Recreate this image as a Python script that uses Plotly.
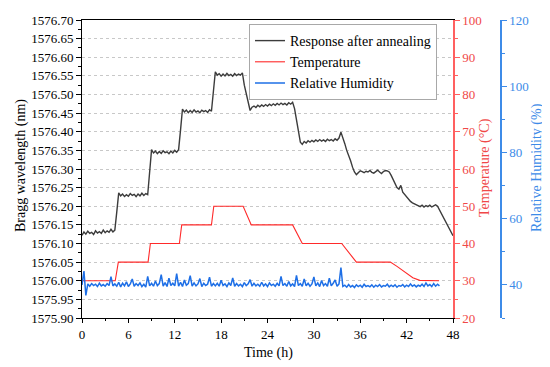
import numpy as np
import plotly.graph_objects as go

# ---------------- data ----------------
# Bragg wavelength (nm), sampled every 0.25 h from 0 to 48 h
bragg = [
    1576.122, 1576.131, 1576.125, 1576.133, 1576.127, 1576.130, 1576.124, 1576.134, 1576.128,
    1576.132, 1576.127, 1576.136, 1576.129, 1576.134, 1576.130, 1576.138, 1576.131, 1576.136,
    1576.185, 1576.236,
    1576.228, 1576.233, 1576.226, 1576.231, 1576.227, 1576.234, 1576.229, 1576.232, 1576.226,
    1576.233, 1576.228, 1576.235, 1576.229, 1576.234, 1576.231,
    1576.300, 1576.352,
    1576.343, 1576.348, 1576.341, 1576.347, 1576.342, 1576.349, 1576.344, 1576.346, 1576.341,
    1576.348, 1576.343, 1576.350, 1576.345, 1576.352,
    1576.405, 1576.461,
    1576.453, 1576.458, 1576.451, 1576.457, 1576.452, 1576.459, 1576.453, 1576.456, 1576.451,
    1576.458, 1576.454, 1576.457, 1576.452, 1576.459, 1576.455,
    1576.520, 1576.561,
    1576.552, 1576.556, 1576.549, 1576.555, 1576.550, 1576.557, 1576.551, 1576.554, 1576.549,
    1576.556, 1576.551, 1576.555, 1576.552, 1576.558,
    1576.525, 1576.500, 1576.478, 1576.457, 1576.466,
    1576.469, 1576.465, 1576.471, 1576.467, 1576.472, 1576.468, 1576.473, 1576.469, 1576.474,
    1576.470, 1576.475, 1576.471, 1576.476, 1576.472, 1576.477, 1576.473, 1576.476, 1576.472,
    1576.478, 1576.474, 1576.479,
    1576.462, 1576.435, 1576.405, 1576.372, 1576.366,
    1576.374, 1576.370, 1576.376, 1576.372, 1576.377, 1576.373, 1576.378, 1576.374, 1576.379,
    1576.375, 1576.378, 1576.374, 1576.380, 1576.376, 1576.379, 1576.375, 1576.381, 1576.377,
    1576.383, 1576.399,
    1576.380, 1576.368, 1576.350, 1576.338, 1576.322, 1576.305, 1576.292, 1576.285,
    1576.291, 1576.295, 1576.293, 1576.290, 1576.294, 1576.292, 1576.296, 1576.291, 1576.289,
    1576.293, 1576.297, 1576.292, 1576.288, 1576.293, 1576.296, 1576.295, 1576.292,
    1576.283, 1576.272, 1576.260, 1576.250, 1576.246, 1576.256, 1576.238, 1576.231, 1576.224,
    1576.218, 1576.213, 1576.209, 1576.206, 1576.204, 1576.201,
    1576.199, 1576.203, 1576.198, 1576.202, 1576.199, 1576.203, 1576.198, 1576.201, 1576.204,
    1576.200,
    1576.190, 1576.180, 1576.168, 1576.158, 1576.148, 1576.139, 1576.130, 1576.121,
]
bragg_time = [0.25 * i for i in range(len(bragg))]

# Temperature (°C) set-point profile
temp_time = [0, 4.3, 4.7, 8.55, 8.85, 12.6, 12.9, 16.75, 17.05, 20.85, 21.9, 27.25, 28.5,
             33.6, 35.5, 39.9, 40.8, 41.8, 42.8, 43.7, 46.2]
temp = [30, 30, 35, 35, 40, 40, 45, 45, 50, 50, 45, 45, 40,
        40, 35, 35, 33.8, 32.2, 30.8, 30.1, 30]

# Relative humidity (%), sampled every 0.25 h from 0 to 46.25 h
rh = [
    40.0, 44.2, 36.8, 40.3, 39.6, 40.4, 39.8, 40.2, 39.5, 40.5, 39.7, 40.1, 39.6, 40.4, 39.8,
    42.5, 39.7, 40.3,
    39.6, 40.8, 39.4, 40.5, 39.7, 40.9, 39.5, 40.3, 41.8, 39.6, 40.4, 39.8, 40.6, 39.5, 40.2,
    39.3, 42.6, 39.7, 40.5, 39.6, 41.2, 39.8, 40.4, 43.1, 39.6, 40.7, 39.5, 42.0, 39.8, 40.5,
    39.7, 43.4, 39.6, 40.8, 39.5, 41.5, 39.9, 40.4, 42.8, 39.6, 40.6, 39.7, 40.3, 41.9, 39.5,
    40.5, 39.8, 40.2, 42.3, 39.6, 40.4,
    39.7, 40.5, 39.6, 41.4, 39.8, 40.3, 39.5, 40.6, 39.8, 42.1, 39.6, 40.4, 39.7, 40.2, 39.5,
    40.7, 39.8, 40.3, 41.6, 39.6, 40.5, 39.7, 40.2, 39.6, 40.8, 39.7, 40.3, 39.5, 40.6, 39.8,
    40.2, 39.6, 40.5, 39.7, 42.6, 39.8, 40.4, 39.6, 41.0, 39.7, 40.3, 39.5, 42.9, 39.8, 40.4,
    39.6, 41.8, 39.7, 40.5, 39.6, 40.3, 42.4, 39.7, 40.6, 39.5, 41.3, 39.8, 40.4, 39.6, 42.0,
    39.7, 40.5, 41.5, 39.6, 40.3, 45.2,
    39.5, 39.9, 39.3, 40.1, 39.4, 39.8, 39.2, 40.0, 39.5, 39.9, 39.3, 40.2, 39.5, 39.8, 39.4,
    40.0, 39.3, 39.9, 39.5, 40.1, 39.4, 39.8, 39.6, 40.2, 39.4, 39.9, 39.5, 40.0, 39.3, 39.8,
    39.6, 40.1, 39.4, 39.9, 39.5, 40.3, 39.6, 40.0, 39.4, 39.9, 39.6, 40.2, 39.5, 40.6, 39.7,
    40.1, 39.5, 40.4, 39.6, 40.2, 39.7,
]
rh_time = [0.25 * i for i in range(len(rh))]

x_ticks = [0, 6, 12, 18, 24, 30, 36, 42, 48]
rh_ticks = [40, 60, 80, 100, 120]

# ---------------- figure ----------------
FONT = "Liberation Serif"
RED_AX = "#FF6060"
RED_TXT = "#F04848"
BLUE_AX = "#3D8BE8"

# the page body has an 8 px margin, so the figure is drawn 8 px smaller/shifted
OFF = 8
W, H = 550 - OFF, 367 - OFF
L = 82 - OFF
T = 20 - OFF
R = W - (501 - OFF)
B = H - (318 - OFF)
PW = W - L - R
PH = H - T - B

def px_x(px):
    return (px - OFF - L) / PW

def px_y(py):
    return (H - B - (py - OFF)) / PH

fig = go.Figure()
fig.add_trace(go.Scatter(x=bragg_time, y=bragg, mode="lines", name="Response after annealing",
                         line=dict(color="#3C3C3C", width=1.4), yaxis="y"))
fig.add_trace(go.Scatter(x=temp_time, y=temp, mode="lines", name="Temperature",
                         line=dict(color="#FF2A2A", width=1.1), yaxis="y2"))
fig.add_trace(go.Scatter(x=rh_time, y=rh, mode="lines", name="Relative Humidity",
                         line=dict(color="#1E6FE6", width=1.5), yaxis="y3"))

xdom_end = px_x(453)

def title_ann(text, x, y, color, angle):
    return dict(text=text, x=px_x(x), y=px_y(y), xref="paper", yref="paper",
                xanchor="center", yanchor="middle", textangle=angle, showarrow=False,
                font=dict(size=14, color=color))

annotations = [
    title_ann("Bragg wavelength (nm)", 21, 166, "black", -90),
    title_ann("Time (h)", 268, 353, "black", 0),
    title_ann("Temperature (°C)", 485, 168, RED_TXT, -90),
    title_ann("Relative Humidity (%)", 537, 168, BLUE_AX, -90),
]

fig.update_layout(
    width=W, height=H,
    margin=dict(l=L, r=R, t=T, b=B, autoexpand=False),
    paper_bgcolor="white", plot_bgcolor="white",
    font=dict(family=FONT, size=13, color="black"),
    showlegend=True,
    annotations=annotations,
    legend=dict(x=px_x(249), y=px_y(24), xanchor="left", yanchor="top",
                bgcolor="white", bordercolor="#A8A8A8", borderwidth=1,
                font=dict(family=FONT, size=14, color="black"),
                tracegroupgap=0, itemwidth=30),
    xaxis=dict(domain=[0, xdom_end], range=[0, 48], tickmode="array", tickvals=x_ticks,
               ticks="outside", ticklen=4, tickcolor="black", automargin=False,
               minor=dict(dtick=3, tick0=0, ticks="outside", ticklen=2, tickcolor="black"),
               showline=True, linecolor="black", linewidth=1, mirror=True,
               showgrid=False, zeroline=False),
    yaxis=dict(range=[1575.90, 1576.70], dtick=0.05, tick0=1575.90, tickformat=".2f",
               ticks="outside", ticklen=5, tickcolor="black", automargin=False,
               minor=dict(dtick=0.025, tick0=1575.90, ticks="outside", ticklen=3,
                          tickcolor="black", showgrid=False),
               showline=True, linecolor="black", linewidth=1,
               showgrid=True, gridcolor="#C8C8C8", griddash="dot", gridwidth=1,
               zeroline=False),
    yaxis2=dict(overlaying="y", side="right", anchor="x", range=[20, 100], dtick=10, tick0=20,
                ticks="outside", ticklen=5, tickcolor=RED_AX, automargin=False,
                minor=dict(dtick=5, tick0=20, ticks="outside", ticklen=3, tickcolor=RED_AX),
                showline=True, linecolor=RED_AX, linewidth=1.5,
                tickfont=dict(color=RED_TXT, size=13),
                showgrid=False, zeroline=False),
    yaxis3=dict(overlaying="y", side="right", anchor="free", position=1.0, range=[30, 120],
                tickmode="array", tickvals=rh_ticks, automargin=False,
                ticks="outside", ticklen=5, tickcolor=BLUE_AX,
                minor=dict(tickmode="array", tickvals=[30, 50, 70, 90, 110], ticks="outside",
                           ticklen=3, tickcolor=BLUE_AX),
                showline=True, linecolor=BLUE_AX, linewidth=1.5,
                tickfont=dict(color=BLUE_AX, size=13),
                showgrid=False, zeroline=False),
)

fig.write_html("out.html")
